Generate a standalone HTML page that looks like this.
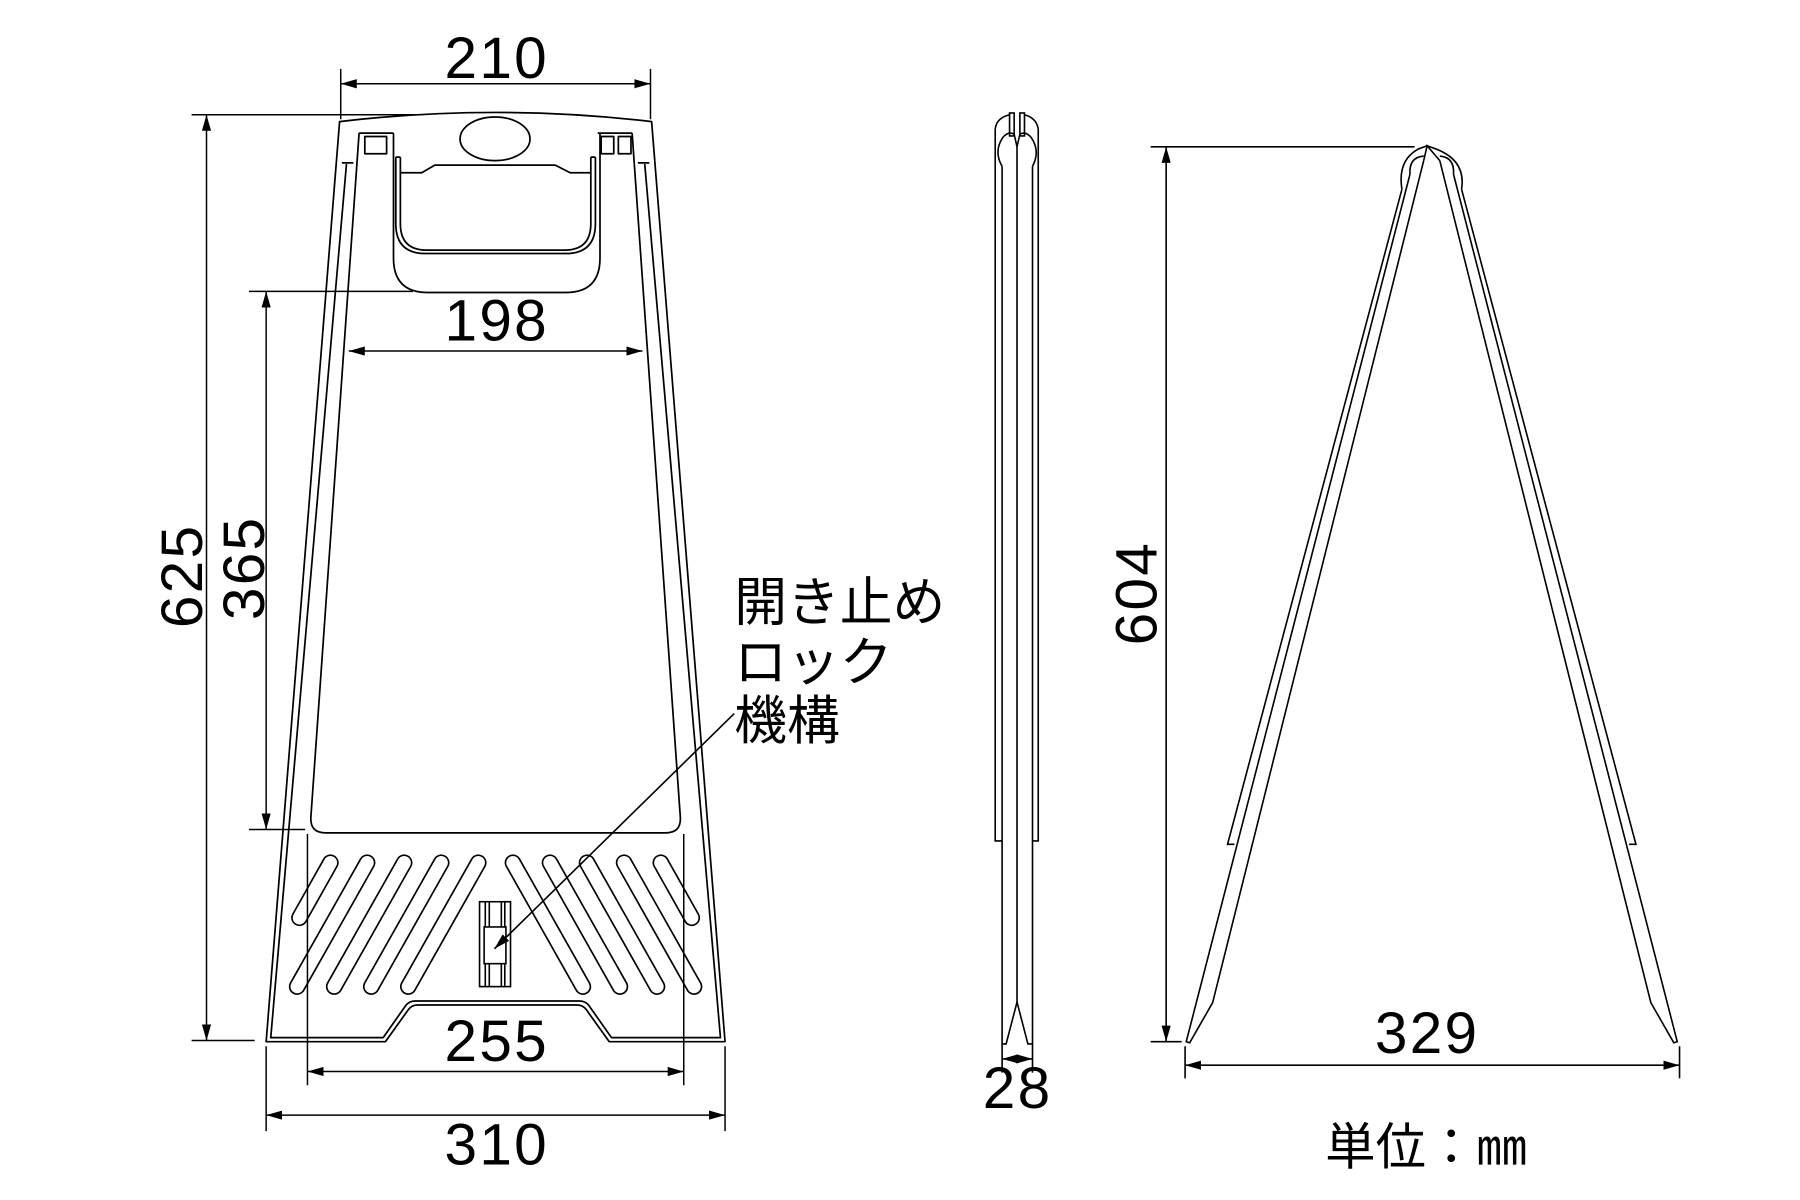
<!DOCTYPE html>
<html><head><meta charset="utf-8"><style>
html,body{margin:0;padding:0;background:#fff;}
svg{display:block;}
text{font-family:"Liberation Sans","Noto Sans CJK JP",sans-serif;fill:#000;}
.j{font-family:"Liberation Sans","Noto Sans CJK JP",sans-serif;}
</style></head><body>
<svg width="1800" height="1200" viewBox="0 0 1569 1046" xmlns="http://www.w3.org/2000/svg">
<defs>
<marker id="a" markerWidth="14" markerHeight="8" refX="14" refY="4" orient="auto-start-reverse" markerUnits="userSpaceOnUse"><path d="M0,0 L14,4 L0,8 Z" fill="#000"/></marker>
</defs>
<g fill="none" stroke="#000" stroke-width="1.5" stroke-linejoin="round">
<path d="M296,106 L232,908 L336,908 L356,880 Q359,876 364,876 L503,876 Q508,876 511,880 L531,908 L632,908 L568,106 Q432,90 296,106 Z"/>
<path d="M302,143 L236,904.5 L334,904.5 L354,876 Q357,872.5 362,872.5 L505,872.5 Q510,872.5 513,876 L533,904.5 L628,904.5 L562,143"/>
<path d="M298,142 L308,142 M556,142 L566,142"/>
<path d="M313,116 L271,712 Q270,726 284,726 L580,726 Q594,726 593,712 L551,116"/>
<path d="M313,116 L343,116 M521,116 L551,116"/>
<rect x="318" y="119" width="19" height="15"/>
<rect x="524" y="119" width="11" height="15"/>
<rect x="539" y="119" width="11" height="15"/>
<ellipse cx="431.5" cy="121" rx="30.5" ry="19"/>
<path d="M343,116 L343,225 Q343,255 373,255 L493,255 Q523,255 523,225 L523,116"/>
<path d="M345,137 L345,195 Q345,221 371,221 L493,221 Q519,221 519,195 L519,137"/>
<path d="M349,137 L349,195 Q349,218 372,218 L492,218 Q515,218 515,195 L515,137"/>
<path d="M345,137 L349,137 M515,137 L519,137"/>
<path d="M349,150.6 L367.6,150.6 L379,143.9 L484,143.9 L497,150.6 L515,150.6"/>
</g>
<g stroke-linecap="round" fill="none">
<g stroke="#000" stroke-width="14.5">
<path d="M288,752 L261,800 M320,752 L259,860 M352.3,752 L291.3,860 M384.6,752 L323.6,860 M416.9,752 L355.9,860"/>
<path d="M576,752 L603,800 M544,752 L605,860 M511.7,752 L572.7,860 M479.4,752 L540.4,860 M447.1,752 L508.1,860"/>
</g>
<g stroke="#fff" stroke-width="11.6">
<path d="M288,752 L261,800 M320,752 L259,860 M352.3,752 L291.3,860 M384.6,752 L323.6,860 M416.9,752 L355.9,860"/>
<path d="M576,752 L603,800 M544,752 L605,860 M511.7,752 L572.7,860 M479.4,752 L540.4,860 M447.1,752 L508.1,860"/>
</g>
</g>
<g fill="none" stroke="#000" stroke-width="1.4">
<rect x="418" y="786" width="27" height="74" fill="#fff"/>
<path d="M423,786 V808 M426.5,786 V808 M437,786 V808 M440,786 V808 M423,840 V860 M426.5,840 V860 M437,840 V860 M440,840 V860"/>
<rect x="422" y="808" width="19" height="32"/>
<path d="M640,622 L431,827" marker-end="url(#a)"/>
</g>
<g fill="none" stroke="#000" stroke-width="1.3">
<path d="M297,60 V104 M567,60 V104"/>
<path d="M297,73 H567" marker-start="url(#a)" marker-end="url(#a)"/>
<path d="M167,100 H367 M167,907 H222"/>
<path d="M180,100 V907" marker-start="url(#a)" marker-end="url(#a)"/>
<path d="M217,254 H360 M217,723 H266"/>
<path d="M232,254 V723" marker-start="url(#a)" marker-end="url(#a)"/>
<path d="M304,306 H560" marker-start="url(#a)" marker-end="url(#a)"/>
<path d="M268,727 V946 M596,727 V946"/>
<path d="M268,934 H596" marker-start="url(#a)" marker-end="url(#a)"/>
<path d="M232,912 V986 M632,912 V986"/>
<path d="M232,972 H632" marker-start="url(#a)" marker-end="url(#a)"/>
</g>
<g fill="none" stroke="#000" stroke-width="1.4">
<path d="M867.5,113 V733 H873.5 M905,113 V733 H900"/>
<path d="M873.5,145 V910 H877 L886.5,873.5 L896,910 H900 V145"/>
<path d="M886.5,128 V873.5"/>
<rect x="880" y="98.5" width="4" height="20"/>
<rect x="889" y="98.5" width="4" height="20"/>
<path d="M867.5,113 Q868,103 880,100 M905,113 Q904,103 893,100"/>
<path d="M873.5,145 Q866,132 874,120 Q879,114 884,117 L886.5,128 L889,117 Q894,114 899,120 Q907,132 900,145"/>
<path d="M873.5,910 V935 M900,910 V935"/>
<path d="M873.5,923 H900" marker-start="url(#a)" marker-end="url(#a)"/>
</g>
<g fill="none" stroke="#000" stroke-width="1.4">
<path d="M1222,165 L1070,736 L1076,736"/>
<path d="M1229,152 L1034,908 L1037,909 L1057,874 L1241,140"/>
<path d="M1274,165 L1426,736 L1420,736"/>
<path d="M1267,152 L1462,908 L1459,909 L1439,874 L1255,140"/>
<path d="M1222,165 Q1218,140 1236,130 L1244,127 L1252,130 Q1278,140 1274,165"/>
<path d="M1229,152 Q1228,137 1241,136 M1267,152 Q1268,137 1255,136"/>
<path d="M1241,140 L1244,127 L1255,140"/>
<path d="M1003,128 H1233 M1003,908 H1030"/>
<path d="M1016.5,128 V908" marker-start="url(#a)" marker-end="url(#a)"/>
<path d="M1033,912 V940 M1464,912 V940"/>
<path d="M1033,928.5 H1464" marker-start="url(#a)" marker-end="url(#a)"/>
</g>
<g font-size="51" letter-spacing="2">
<text x="433" y="68" text-anchor="middle">210</text>
<text x="433" y="297" text-anchor="middle">198</text>
<text x="433" y="925" text-anchor="middle">255</text>
<text x="433" y="1015" text-anchor="middle">310</text>
<text x="887" y="966" text-anchor="middle">28</text>
<text x="1244" y="918" text-anchor="middle">329</text>
<text transform="translate(176,502) rotate(-90)" text-anchor="middle">625</text>
<text transform="translate(230,495) rotate(-90)" text-anchor="middle">365</text>
<text transform="translate(1008,517) rotate(-90)" text-anchor="middle">604</text>
</g>
<g font-size="46" class="j">
<text x="640" y="541">開き止め</text>
<text x="640" y="593">ロック</text>
<text x="640" y="644">機構</text>
</g>
<text x="1243" y="1015" font-size="44" text-anchor="middle" class="j">単位：㎜</text>
</svg>
</body></html>
